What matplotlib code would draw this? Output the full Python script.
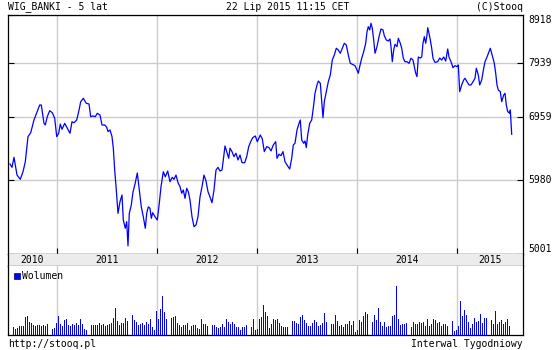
import matplotlib
matplotlib.use("Agg")
import matplotlib.pyplot as plt
import numpy as np
from matplotlib.patches import Rectangle
from matplotlib.ticker import NullLocator
from matplotlib.transforms import blended_transform_factory

# notowania tygodniowe WIG_BANKI (czas jako ulamek roku)
price_years = [
    2010.53, 2010.55, 2010.57, 2010.583, 2010.60, 2010.633, 2010.66, 2010.683, 2010.71, 2010.737,
    2010.77, 2010.793, 2010.827, 2010.843, 2010.87, 2010.883, 2010.903, 2010.927, 2010.953, 2010.977,
    2010.997, 2011.017, 2011.033, 2011.05, 2011.077, 2011.103, 2011.13, 2011.15, 2011.17, 2011.197,
    2011.217, 2011.237, 2011.263, 2011.293, 2011.32, 2011.337, 2011.36, 2011.383, 2011.403, 2011.43,
    2011.45, 2011.477, 2011.497, 2011.51, 2011.53, 2011.55, 2011.563, 2011.577, 2011.593, 2011.61,
    2011.63, 2011.65, 2011.663, 2011.683, 2011.697, 2011.71, 2011.723, 2011.743, 2011.76, 2011.78,
    2011.803, 2011.823, 2011.843, 2011.863, 2011.883, 2011.897, 2011.913, 2011.93, 2011.943, 2011.957,
    2011.98, 2012.003, 2012.023, 2012.04, 2012.063, 2012.083, 2012.107, 2012.13, 2012.153, 2012.17,
    2012.19, 2012.21, 2012.23, 2012.247, 2012.263, 2012.28, 2012.297, 2012.313, 2012.33, 2012.35,
    2012.37, 2012.39, 2012.41, 2012.43, 2012.45, 2012.47, 2012.49, 2012.51, 2012.53, 2012.55,
    2012.57, 2012.59, 2012.61, 2012.63, 2012.65, 2012.663, 2012.68, 2012.697, 2012.717, 2012.73,
    2012.75, 2012.77, 2012.79, 2012.81, 2012.83, 2012.85, 2012.877, 2012.897, 2012.917, 2012.937,
    2012.957, 2012.983, 2013.003, 2013.023, 2013.033, 2013.053, 2013.073, 2013.097, 2013.12, 2013.14,
    2013.163, 2013.187, 2013.20, 2013.22, 2013.24, 2013.26, 2013.28, 2013.30, 2013.327, 2013.347,
    2013.363, 2013.38, 2013.40, 2013.42, 2013.433, 2013.447, 2013.467, 2013.48, 2013.493, 2013.507,
    2013.527, 2013.547, 2013.567, 2013.58, 2013.60, 2013.613, 2013.633, 2013.647, 2013.66, 2013.673,
    2013.693, 2013.713, 2013.733, 2013.753, 2013.773, 2013.793, 2013.813, 2013.833, 2013.853, 2013.873,
    2013.893, 2013.913, 2013.933, 2013.953, 2013.98, 2014.00, 2014.013, 2014.027, 2014.047, 2014.067,
    2014.087, 2014.10, 2014.113, 2014.127, 2014.14, 2014.153, 2014.167, 2014.18, 2014.20, 2014.22,
    2014.24, 2014.26, 2014.273, 2014.293, 2014.313, 2014.33, 2014.34, 2014.353, 2014.367, 2014.38,
    2014.40, 2014.413, 2014.433, 2014.447, 2014.463, 2014.48, 2014.50, 2014.52, 2014.54, 2014.56,
    2014.573, 2014.587, 2014.60, 2014.613, 2014.633, 2014.647, 2014.66, 2014.673, 2014.687, 2014.70,
    2014.707, 2014.72, 2014.733, 2014.747, 2014.76, 2014.78, 2014.807, 2014.827, 2014.847, 2014.867,
    2014.887, 2014.907, 2014.92, 2014.94, 2014.96, 2014.98, 2015.00, 2015.013, 2015.027, 2015.047,
    2015.067, 2015.08, 2015.10, 2015.12, 2015.14, 2015.16, 2015.18, 2015.193, 2015.213, 2015.227,
    2015.247, 2015.267, 2015.28, 2015.30, 2015.32, 2015.333, 2015.347, 2015.36, 2015.373, 2015.387,
    2015.40, 2015.413, 2015.433, 2015.447, 2015.467, 2015.48, 2015.493, 2015.507, 2015.527, 2015.533,
    2015.54, 2015.547,
]
price_values = [
    6218, 6168, 6320, 6203, 6054, 5992, 6103, 6252, 6644, 6708,
    6917, 7018, 7173, 7173, 6861, 6834, 6973, 7075, 7040, 6946,
    6644, 6698, 6850, 6763, 6861, 6779, 6698, 6888, 6871, 6917,
    7058, 7230, 7290, 7202, 7190, 6973, 6985, 6973, 7030, 7001,
    6834, 6834, 6796, 6725, 6752, 6644, 6460, 6128, 5839, 5518,
    5676, 5769, 5430, 5322, 5408, 5100, 5518, 5630, 5811, 5924,
    6084, 5839, 5605, 5473, 5322, 5518, 5605, 5586, 5452, 5527,
    5473, 5430, 5654, 5886, 6103, 6029, 6113, 5958, 6021, 5992,
    6054, 5943, 5886, 5793, 5839, 5722, 5863, 5815, 5699, 5473,
    5343, 5365, 5473, 5741, 5886, 6054, 5968, 5815, 5741, 5662,
    5839, 6128, 6168, 6113, 6128, 6279, 6496, 6407, 6305, 6460,
    6407, 6330, 6382, 6279, 6355, 6238, 6238, 6330, 6485, 6563,
    6627, 6655, 6563, 6634, 6671, 6607, 6407, 6485, 6470, 6418,
    6511, 6563, 6305, 6367, 6345, 6407, 6252, 6203, 6143, 6305,
    6511, 6538, 6752, 6861, 6917, 6591, 6538, 6575, 6470, 6671,
    6861, 6917, 7173, 7379, 7529, 7601, 7560, 7230, 6956, 7230,
    7408, 7588, 7713, 7997, 8095, 8228, 8194, 8129, 8228, 8328,
    8294, 8095, 7934, 7915, 7889, 7807, 7745, 7870, 8032, 8160,
    8328, 8565, 8669, 8600, 8741, 8636, 8395, 8129, 8260, 8462,
    8622, 8600, 8483, 8395, 8375, 8416, 8260, 7965, 8194, 8308,
    8260, 8430, 8328, 8228, 8032, 7965, 7965, 7934, 8032, 7997,
    7870, 7745, 7681, 8056, 8036, 8056, 8328, 8462, 8328, 8497,
    8648, 8533, 8395, 8228, 8032, 7952, 7965, 8036, 7997, 8056,
    7978, 8214, 8056, 7965, 7851, 7889, 7870, 7902, 7408, 7529,
    7620, 7652, 7588, 7529, 7529, 7588, 7652, 7840, 7713, 7529,
    7620, 7840, 7965, 8056, 8160, 8228, 8129, 8032, 7934, 7745,
    7529, 7437, 7408, 7230, 7348, 7379, 7173, 7058, 7030, 7087,
    6888, 6682,
]

# wolumen tygodniowy (jednostki umowne), od lipca 2010 do lipca 2015
volume = [
    31, 28, 23, 18, 20, 27, 26, 26, 55, 58, 40, 37, 29, 27, 29, 31, 27, 29, 28, 34,
    34, 29, 17, 22, 37, 58, 33, 26, 45, 49, 31, 27, 32, 29, 36, 29, 49, 34, 19, 16,
    22, 40, 31, 29, 29, 29, 36, 31, 34, 26, 29, 32, 35, 52, 82, 43, 29, 37, 37, 52,
    43, 64, 43, 61, 46, 40, 31, 34, 36, 29, 40, 34, 49, 25, 16, 73, 49, 79, 118, 70,
    49, 40, 43, 52, 55, 58, 37, 29, 23, 29, 29, 37, 16, 27, 31, 29, 22, 19, 49, 34,
    34, 28, 43, 31, 31, 29, 25, 21, 23, 33, 25, 49, 40, 34, 40, 34, 25, 25, 16, 25,
    25, 31, 37, 64, 25, 49, 16, 18, 47, 55, 91, 70, 58,
    20, 34, 48, 46, 48, 36, 28, 24, 24, 24, 36, 16, 42, 42, 36, 34, 54, 60, 46, 36,
    28, 28, 36, 44, 40, 28, 30, 36, 66, 40, 40, 30, 34, 34, 60, 42, 28, 30, 24, 34,
    34, 42, 30, 42, 10, 16, 44, 40, 58, 70, 64, 42, 36, 40, 60, 44, 82, 40, 28, 40,
    24, 28, 28, 58, 60, 147, 48, 30, 32, 32, 36, 34, 24, 24, 40, 32, 32, 40, 36, 38,
    28, 48, 28, 32, 48, 44, 36, 40, 28, 32, 32, 26, 28, 28, 42, 12, 16, 28, 102, 58,
    74, 60, 38, 22, 34, 50, 38, 42, 64, 36, 52, 52, 28, 44, 44, 32, 72, 32, 38, 44,
    34, 40, 48, 28,
]
volume_start, volume_end = 2010.53, 2015.525

y_ticks = [5001, 5980, 6959, 7939, 8918]
year_starts = [2011, 2012, 2013, 2014, 2015]
year_labels = ["2010", "2011", "2012", "2013", "2014", "2015"]
x_min, x_max = 2010.51, 2015.66

BLUE = "#0000ff"
GRID = "#cccccc"

plt.rcParams["font.family"] = ["DejaVu Sans Mono"]
plt.rcParams["font.size"] = 7

W, H = 560, 350
fig = plt.figure(figsize=(W / 100, H / 100), dpi=100)


def box(l, t, r, b):
    return [l / W, 1 - b / H, (r - l) / W, (b - t) / H]


ax = fig.add_axes(box(8, 15, 523, 254))
band = fig.add_axes(box(8, 254, 523, 266))
vol = fig.add_axes(box(8, 266, 523, 335))

# wykres kursu
ax.plot(price_years, price_values, color=BLUE, lw=0.9, zorder=3)
ax.set_yscale("log")
ax.set_ylim(y_ticks[0], y_ticks[-1])
ax.set_xlim(x_min, x_max)
ax.yaxis.set_minor_locator(NullLocator())
ax.set_yticks(y_ticks)
ax.set_xticks(year_starts)
ax.tick_params(axis="both", direction="in", length=4, width=0.8,
               labelleft=False, labelbottom=False, left=True, right=True)
ax.grid(True, color=GRID, lw=1.0)
for s in ax.spines.values():
    s.set_linewidth(0.9)

trans = blended_transform_factory(ax.transAxes, ax.transData)
for i, v in enumerate(y_ticks):
    va = "center"
    if i == 0:
        va = "bottom"
    elif i == len(y_ticks) - 1:
        va = "top"
    ax.text(1 + 5 / 515, v, str(v), transform=trans, ha="left", va=va)

# pasek z latami
band.set_facecolor("#ececec")
band.set_xlim(x_min, x_max)
band.set_ylim(0, 1)
band.set_xticks([])
band.set_yticks([])
band.spines["top"].set_visible(False)
for s in band.spines.values():
    s.set_linewidth(0.9)
edges = [x_min] + year_starts + [x_max]
for i, lab in enumerate(year_labels):
    band.text((edges[i] + edges[i + 1]) / 2, 0.5, lab, ha="center", va="center")

# wolumen
vol_x = np.linspace(volume_start, volume_end, len(volume))
vol.bar(vol_x, volume, width=0.009, color=BLUE, lw=0, antialiased=False, zorder=3)
vol.set_xlim(x_min, x_max)
vol.set_ylim(0, 207)
vol.set_xticks([])
vol.set_yticks([])
for ys in year_starts:
    vol.axvline(ys, color=GRID, lw=1.0, zorder=1)
vol.spines["top"].set_visible(False)
for s in vol.spines.values():
    s.set_linewidth(0.9)

fig.add_artist(Rectangle((14 / W, 1 - 279 / H), 6 / W, 6 / H, transform=fig.transFigure,
                         facecolor=BLUE, edgecolor="#000080", lw=0.5))
fig.text(22 / W, 1 - 276 / H, "Wolumen", ha="left", va="center")

fig.text(8 / W, 1 - 6.5 / H, "WIG_BANKI - 5 lat", ha="left", va="center")
fig.text(288 / W, 1 - 6.5 / H, "22 Lip 2015 11:15 CET", ha="center", va="center")
fig.text(523 / W, 1 - 6.5 / H, "(C)Stooq", ha="right", va="center")
fig.text(8 / W, 1 - 344 / H, "http://stooq.pl", ha="left", va="center")
fig.text(523 / W, 1 - 344 / H, "Interwal Tygodniowy", ha="right", va="center")

fig.savefig("out.png", dpi=100)
